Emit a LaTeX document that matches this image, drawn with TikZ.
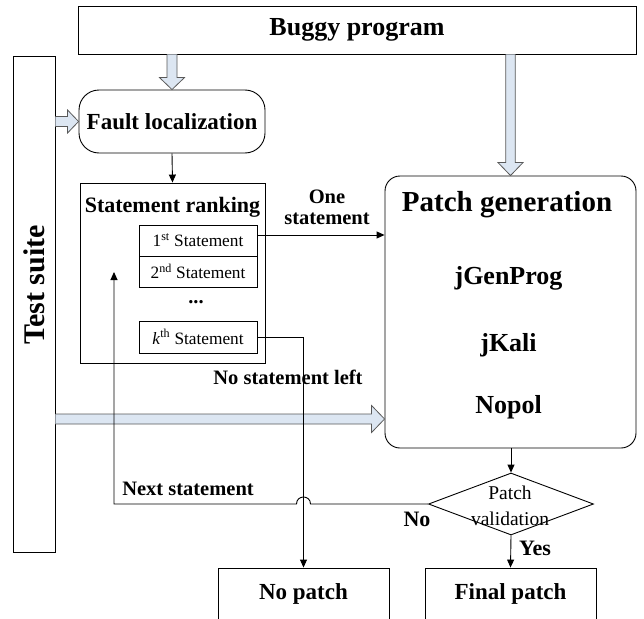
\documentclass[tikz,border=0pt]{standalone}
\usepackage{fontspec}
\setmainfont{Liberation Serif}
\usetikzlibrary{arrows.meta,shapes.geometric,calc}
\definecolor{arrowfill}{RGB}{220,230,242}
\begin{document}
\begin{tikzpicture}[x=1pt,y=-1pt,
  box/.style={draw=black, line width=0.9pt, inner sep=0pt},
  lbl/.style={inner sep=0pt, align=center},
  fA/.style={font=\fontsize{26}{30}\selectfont\bfseries},
  fB/.style={font=\fontsize{23}{27}\selectfont\bfseries},
  fC/.style={font=\fontsize{22}{26}\selectfont\bfseries},
  fD/.style={font=\fontsize{20.5}{21}\selectfont\bfseries},
  fE/.style={font=\fontsize{17.3}{20}\selectfont},
  fT/.style={font=\fontsize{30}{34}\selectfont\bfseries},
  fP/.style={font=\fontsize{29}{33}\selectfont\bfseries},
  fV/.style={font=\fontsize{19.5}{26}\selectfont},
  arr/.style={draw=black, line width=0.9pt, -{Triangle[length=8pt,width=7pt]}},
  blk/.style={draw=black!65, fill=arrowfill, line width=0.8pt, line join=miter}
]
\useasboundingbox (0,0) rectangle (644,618);
\clip (0,0) rectangle (644,618);

% nodes
\node[box, minimum width=558pt, minimum height=48pt, fA] (bp) at (357,30) {Buggy program};
\node[box, minimum width=42pt, minimum height=496pt] (ts) at (34,304) {};
\node[lbl, rotate=90, fT] (tst) at (34,285) {Test suite};
\node[box, rounded corners=20pt, minimum width=186pt, minimum height=63pt, fB] (fl) at (172,121.5) {Fault localization};
\node[box, minimum width=185pt, minimum height=180pt] (sr) at (172.5,273) {};
\node[lbl, fC] (srt) at (172.5,207) {Statement ranking};
\node[box, minimum width=118pt, minimum height=31pt, fE] (s1) at (198,240.5) {1\textsuperscript{st} Statement};
\node[box, minimum width=118pt, minimum height=31pt, fE] (s2) at (198,271.5) {2\textsuperscript{nd} Statement};
\node[lbl, fD] (dots) at (196,302) {...};
\node[box, minimum width=118pt, minimum height=32pt, fE] (sk) at (198,337) {\textit{k}\textsuperscript{th} Statement};
\node[box, rounded corners=15pt, minimum width=251pt, minimum height=272pt] (pg) at (510.5,312) {};
\node[lbl, fP] (pgt) at (507,205) {Patch generation};
\node[lbl, fA] (jg) at (508.5,278) {jGenProg};
\node[lbl, fA] (jk) at (508.5,345) {jKali};
\node[lbl, fA] (nop) at (508.5,407) {Nopol};
\node[diamond, draw=black, line width=0.9pt, inner sep=0pt, minimum width=165pt, minimum height=62pt] (pv) at (511,504) {};
\node[lbl, fV] (pvt) at (510,506) {Patch\\validation};
\node[box, minimum width=171pt, minimum height=52pt, fB] (np) at (303.5,594) {No patch};
\node[box, minimum width=171pt, minimum height=52pt, fB] (fp) at (510.5,594) {Final patch};

% block arrows
\draw[blk] ($(bp.south -| fl.north)+(-5,0)$) -- ($(fl.north)+(-5,-12)$) -- ($(fl.north)+(-12.5,-12)$) -- (fl.north)
  -- ($(fl.north)+(12.5,-12)$) -- ($(fl.north)+(5,-12)$) -- ($(bp.south -| fl.north)+(5,0)$);
\draw[blk] ($(ts.east |- fl.west)+(0,-5)$) -- ($(fl.west)+(-11,-5)$) -- ($(fl.west)+(-11,-11.5)$) -- (fl.west)
  -- ($(fl.west)+(-11,11.5)$) -- ($(fl.west)+(-11,5)$) -- ($(ts.east |- fl.west)+(0,5)$);
\draw[blk] ($(bp.south -| pg.north)+(-4.75,0)$) -- ($(pg.north)+(-4.75,-13)$) -- ($(pg.north)+(-12.5,-13)$) -- (pg.north)
  -- ($(pg.north)+(12.5,-13)$) -- ($(pg.north)+(4.75,-13)$) -- ($(bp.south -| pg.north)+(4.75,0)$);
\coordinate (tsin) at (pg.west |- 0,419);
\draw[blk] ($(ts.east |- tsin)+(0,-5)$) -- ($(tsin)+(-13,-5)$) -- ($(tsin)+(-13,-13.5)$) -- (tsin)
  -- ($(tsin)+(-13,13.5)$) -- ($(tsin)+(-13,5)$) -- ($(ts.east |- tsin)+(0,5)$);

% thin connectors
\draw[arr] (fl.south) -- (sr.north);
\coordinate (osA) at ([yshift=5.5pt]s1.east);
\draw[arr] (osA) -- (osA -| pg.west);
\draw[arr] (sk.east) -| (np.north);
\draw[arr] (pg.south -| pv.north) -- (pv.north);
\draw[arr] (pv.south) -- (fp.north);
\coordinate (cross) at (np.north |- pv.west);
\coordinate (back) at (114,272);
\draw[arr] (pv.west) -- ($(cross)+(7,0)$) .. controls ($(cross)+(7,-9.3)$) and ($(cross)+(-7,-9.3)$) .. ($(cross)+(-7,0)$)
  -- (back |- pv.west) -- (back);

% labels
\node[lbl, fD] (lone) at (327,207) {One\\statement};
\node[lbl, fD] (lnsl) at (288,377) {No statement left};
\node[lbl, fD] (lnext) at (188,489) {Next statement};
\node[lbl, fC] (lno) at (417,519) {No};
\node[lbl, fC] (lyes) at (535,548) {Yes};
\end{tikzpicture}
\end{document}
